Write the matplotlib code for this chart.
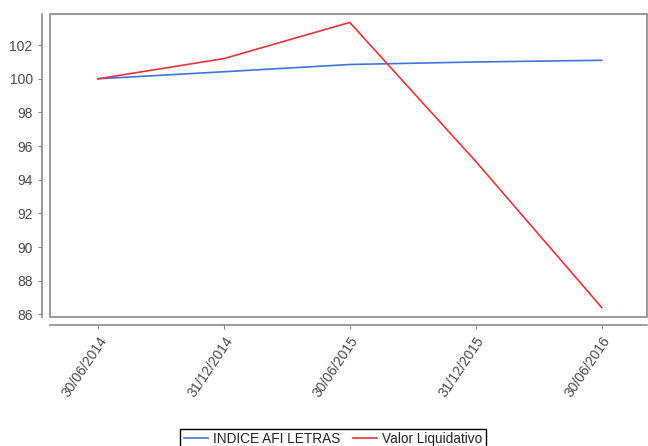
import matplotlib.pyplot as plt
from matplotlib.patches import Rectangle

plt.rcParams['font.family'] = ['Liberation Sans', 'DejaVu Sans']

dates = ["30/06/2014", "31/12/2014", "30/06/2015", "31/12/2015", "30/06/2016"]
indice_afi = [100.0, 100.42, 100.85, 101.0, 101.1]
valor_liq = [100.0, 101.2, 103.35, 95.1, 86.42]
yticks = [86, 88, 90, 92, 94, 96, 98, 100, 102]

fig = plt.figure(figsize=(6.48, 4.46), dpi=100)
ax = fig.add_axes([50/648, (446-317)/446, 597/648, 303/446])

x = range(len(dates))
ax.plot(x, indice_afi, color='#3f74dc', lw=1.2, label="INDICE AFI LETRAS")
ax.plot(x, valor_liq, color='#e8333d', lw=1.2, label="Valor Liquidativo")

ax.set_xlim(-0.38, 4.36)
ax.set_ylim(85.85, 103.85)
ax.set_yticks(yticks)
ax.set_xticks(list(x))
ax.set_xticklabels(dates)

# inner frame
ax.add_patch(Rectangle((0, 0), 1, 1, transform=ax.transAxes, fill=False,
                       edgecolor='#8a8a8a', lw=1.2, clip_on=False, zorder=5))
for s in ['top', 'right']:
    ax.spines[s].set_visible(False)
for s in ['left', 'bottom']:
    ax.spines[s].set_position(('outward', 6))
    ax.spines[s].set_color('#8a8a8a')
    ax.spines[s].set_linewidth(1.2)
ax.tick_params(colors='#8a8a8a', labelcolor='#4a4a4a', labelsize=10, length=3, width=0.8)
ax.tick_params(axis='x', pad=3, labelrotation=56)
for lab in ax.get_xticklabels():
    lab.set_ha('right')
    lab.set_rotation_mode('anchor')

leg = fig.legend(loc='upper center', bbox_to_anchor=(333/648, 24/446), ncol=2,
                 fontsize=9.8, frameon=True, fancybox=False, edgecolor='black',
                 handlelength=1.8, handletextpad=0.35, columnspacing=0.9,
                 borderpad=0.25, framealpha=1)
for t in leg.get_texts():
    t.set_color('#222222')

plt.savefig("out.png", dpi=100)
